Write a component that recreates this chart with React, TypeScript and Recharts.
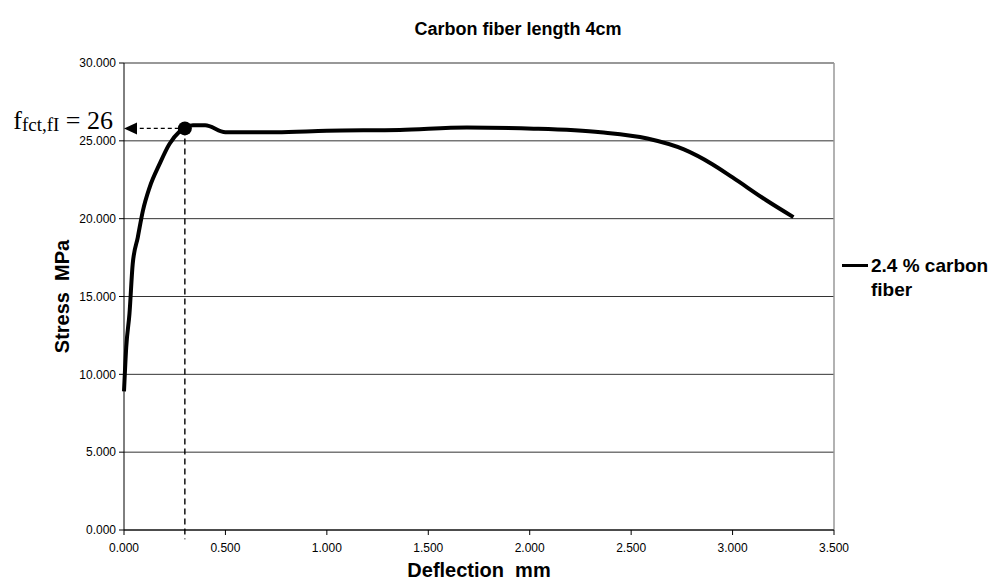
import React from "react";
import {
  LineChart,
  Line,
  XAxis,
  YAxis,
  CartesianGrid,
  ReferenceLine,
  ReferenceDot,
} from "recharts";

const seriesName = "2.4 % carbon fiber";
const deflection = [
  0, 0.011, 0.027, 0.043, 0.068, 0.093, 0.126, 0.175, 0.224, 0.274, 0.3, 0.34,
  0.4, 0.5, 0.75, 1.0, 1.36, 1.69, 2.02, 2.35, 2.58, 2.76, 2.9, 3.0, 3.17, 3.3,
];
const stress = [
  8.9, 11.75, 13.9, 17.1, 18.8, 20.5, 22.0, 23.5, 24.8, 25.6, 25.85, 26.0, 26.0,
  25.55, 25.55, 25.65, 25.7, 25.85, 25.78, 25.55, 25.15, 24.45, 23.5, 22.65,
  21.15, 20.1,
];
const xTicks = [0, 0.5, 1, 1.5, 2, 2.5, 3, 3.5];
const yTicks = [0, 5, 10, 15, 20, 25, 30];
const peak = { x: 0.3, y: 25.8 };

const data = deflection.map((d, i) => ({ d, s: stress[i] }));

const font = "'Liberation Sans', Arial, sans-serif";
const titleStyle = { fontFamily: font, fontWeight: "bold" as const, fontSize: 20, fill: "#000" };

function ArrowShape(p: any) {
  const { x1, y1, x2, y2 } = p;
  return (
    <g>
      <line x1={x1} y1={y1} x2={x2 + 13} y2={y2} stroke="#000" strokeWidth={1.4} strokeDasharray="4 3" />
      <polygon points={`${x2},${y2} ${x2 + 13},${y2 - 6} ${x2 + 13},${y2 + 6}`} fill="#000" />
      <text x={x2 - 11} y={y2 + 1} textAnchor="end" fontFamily="'Liberation Serif', serif" fontSize={26} fill="#000">
        f<tspan fontSize={19} dy={2}>fct,fI</tspan>
        <tspan dy={-2} style={{ whiteSpace: "pre" }}> = 26</tspan>
      </text>
    </g>
  );
}

function XLabel({ viewBox }: any) {
  return (
    <text x={viewBox.x + viewBox.width / 2} y={577} textAnchor="middle" style={{ ...titleStyle, whiteSpace: "pre" }}>
      Deflection  mm
    </text>
  );
}

function YLabel({ viewBox }: any) {
  const cx = 69;
  const cy = viewBox.y + viewBox.height / 2;
  return (
    <text x={cx} y={cy} transform={`rotate(-90 ${cx} ${cy})`} textAnchor="middle" style={{ ...titleStyle, whiteSpace: "pre" }}>
      Stress  MPa
    </text>
  );
}

export default function App() {
  return (
    <div style={{ position: "absolute", left: 0, top: 0, width: 1006, height: 588, background: "#fff" }}>
      <div
        style={{
          position: "absolute",
          left: 0,
          width: 1036,
          top: 19,
          textAlign: "center",
          fontFamily: font,
          fontWeight: "bold",
          fontSize: 18,
        }}
      >
        Carbon fiber length 4cm
      </div>
      <div
        style={{
          position: "absolute",
          left: 842,
          top: 254,
          width: 164,
          display: "flex",
          fontFamily: font,
          fontWeight: "bold",
          fontSize: 19,
          lineHeight: "24px",
        }}
      >
        <div style={{ width: 26, height: 3, background: "#000", marginTop: 10, marginRight: 3, flex: "none" }} />
        <div style={{ width: 135 }}>{seriesName}</div>
      </div>
      <LineChart
        width={1006}
        height={588}
        data={data}
        margin={{ top: 63, right: 172, bottom: 0, left: 64 }}
      >
        <CartesianGrid horizontal vertical={false} stroke="#333" strokeWidth={1} />
        <XAxis
          dataKey="d"
          type="number"
          domain={[0, 3.5]}
          ticks={xTicks}
          tickFormatter={(v: number) => v.toFixed(3)}
          stroke="#000"
          tickSize={5}
          tickMargin={8}
          height={58}
          tick={{ fontSize: 12, fill: "#000", fontFamily: font }}
          label={<XLabel />}
        />
        <YAxis
          type="number"
          domain={[0, 30]}
          ticks={yTicks}
          tickFormatter={(v: number) => v.toFixed(3)}
          stroke="#000"
          width={60}
          tickSize={5}
          tickMargin={3}
          tick={{ fontSize: 12, fill: "#000", fontFamily: font }}
          label={<YLabel />}
        />
        <ReferenceLine y={30} stroke="#999" strokeWidth={1.5} />
        <ReferenceLine x={3.5} stroke="#999" strokeWidth={1.5} />
        <ReferenceLine
          segment={[peak, { x: peak.x, y: -0.6 }]}
          ifOverflow="visible"
          stroke="#000"
          strokeWidth={1.4}
          strokeDasharray="6 4"
        />
        <ReferenceLine
          segment={[{ x: peak.x - 0.03, y: peak.y }, { x: 0, y: peak.y }]}
          ifOverflow="visible"
          shape={ArrowShape}
        />
        <Line
          type="monotone"
          dataKey="s"
          name={seriesName}
          stroke="#000"
          strokeWidth={4}
          dot={false}
          isAnimationActive={false}
        />
        <ReferenceDot x={peak.x} y={peak.y} r={7} fill="#000" stroke="none" />
      </LineChart>
    </div>
  );
}
